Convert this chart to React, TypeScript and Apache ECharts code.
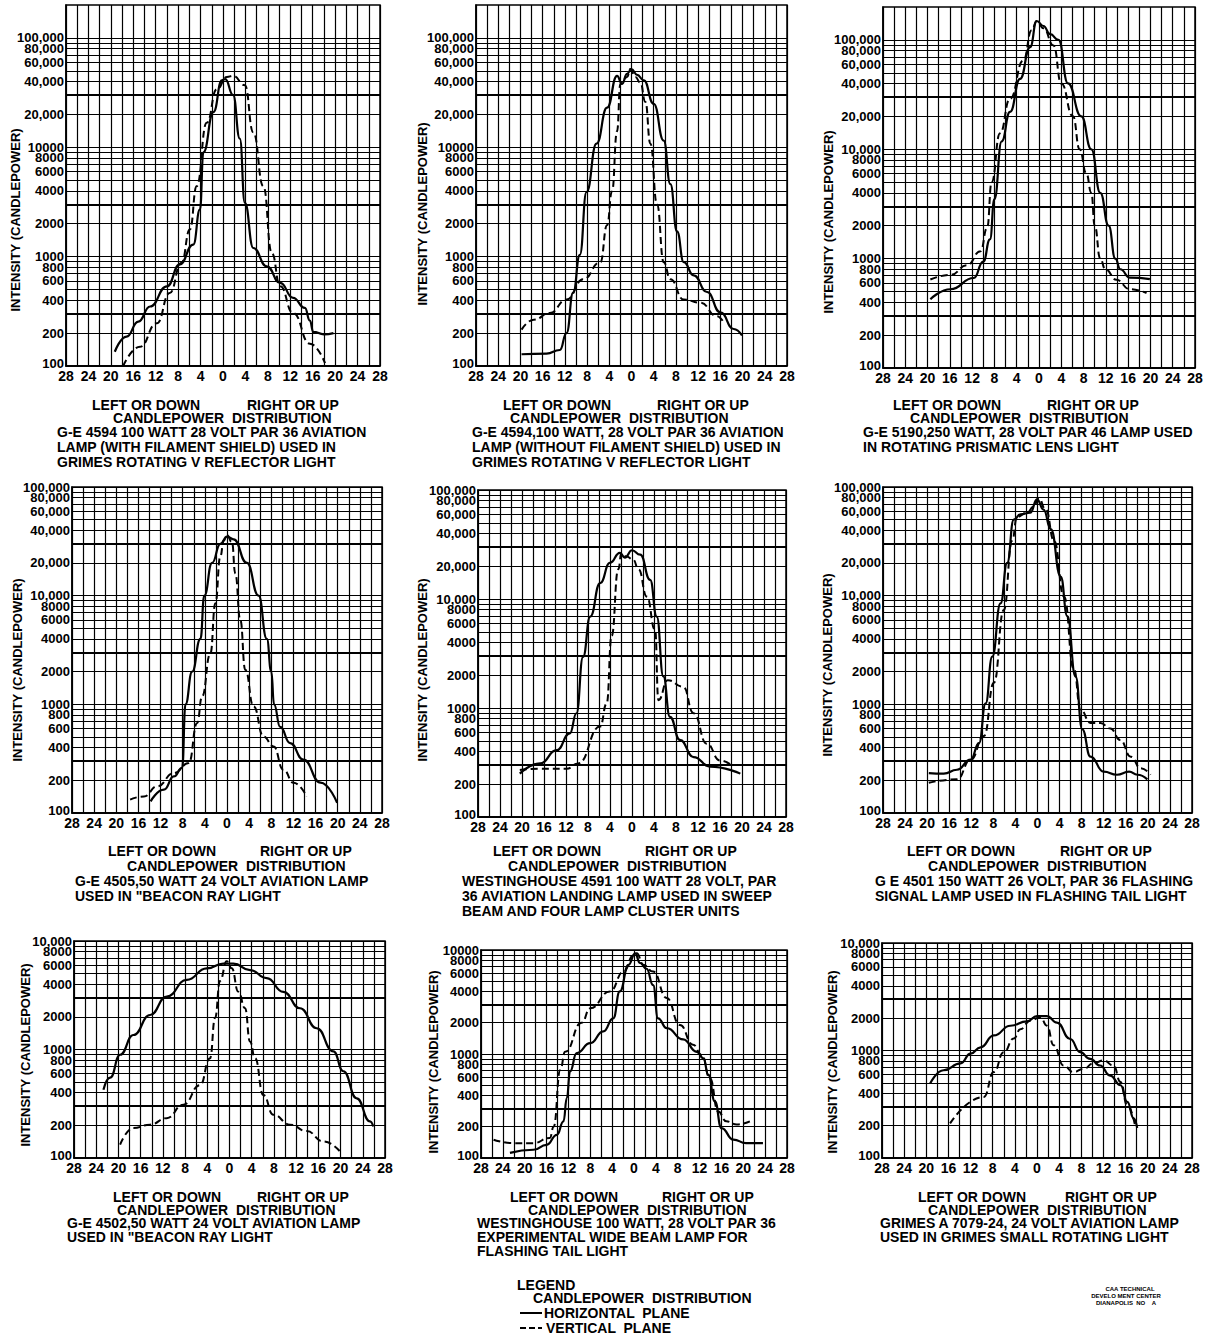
import React, { useEffect, useRef } from "react";
import * as echarts from "echarts";

const FONT = "'Liberation Sans', Arial, sans-serif";

// y-axis tick labels (candlepower)
const yLabelValues = [100, 200, 400, 600, 800, 1000, 2000, 4000, 6000, 8000, 10000, 20000, 40000, 60000, 80000, 100000];
// log-paper rulings inside each decade
const gridMultipliers = [1, 2, 3, 4, 5, 6, 7, 8, 9];

// [degrees, candlepower] – solid = horizontal plane, dashed = vertical plane
const p1Horizontal = [[-19.3,135],[-17.2,186],[-15.1,255],[-13,350],[-10,535],[-7.7,850],[-5.3,1290],[-4.1,2700],[-3.5,9000],[-1.7,21000],[-0.2,41000],[0.4,42000],[1.8,30000],[3,12000],[3.9,3100],[5.4,1200],[7.8,815],[10.2,575],[12.5,420],[14.6,340],[15.5,260],[16.1,205],[18,195],[19.7,200]];
const p1Vertical = [[-17.8,100],[-14.8,150],[-11.8,246],[-9.5,465],[-7.4,880],[-5.9,1770],[-4.7,4400],[-2.9,16800],[-1.1,34000],[0.7,44000],[1.8,45000],[3.9,37000],[5.4,13700],[7.2,4400],[8.7,1080],[10.2,535],[12.5,305],[15.5,160],[18.2,106]];

const p2Horizontal = [[-19.8,128],[-15.3,130],[-12.9,140],[-11.7,200],[-10.5,470],[-9.3,1040],[-8.1,3900],[-6.3,10800],[-4.4,23000],[-2.6,45000],[-1.7,38000],[-0.8,47000],[0,52000],[1,46000],[2.2,41000],[4,25000],[5.8,11500],[7,4600],[8.2,1700],[9.4,890],[11.2,675],[13.6,475],[16,310],[18.4,218],[19.9,190]];
const p2Vertical = [[-19.8,215],[-17.6,265],[-14.7,305],[-11.7,405],[-8.7,620],[-5.6,890],[-4.4,1940],[-3.5,3970],[-2.6,14000],[-2,38000],[-0.8,44000],[-0.2,52000],[0.7,44000],[1.6,39000],[2.5,26000],[3.4,10800],[4.6,3000],[5.8,890],[7,620],[9.4,405],[12.4,380],[15.4,285],[16.6,250]];

const p3Horizontal = [[-19.5,425],[-15.9,525],[-11.7,665],[-10,940],[-8.8,1500],[-8,3500],[-6.7,11800],[-5.2,22000],[-3.4,44000],[-1.6,86000],[-0.4,149000],[0.8,134000],[2,113000],[3.5,100000],[5.2,40000],[7.6,20000],[9.4,10000],[11,4000],[12.5,2000],[13.7,1000],[14.6,800],[16.3,670],[19.9,650]];
const p3Vertical = [[-19.5,645],[-15.9,710],[-12.9,870],[-10.5,1170],[-9.3,1920],[-8.5,5000],[-7,14000],[-5.2,29000],[-2.8,65000],[-1.3,123000],[-0.4,149000],[0.8,128000],[2.6,89000],[4,40000],[6.1,20000],[7.3,10000],[8.5,6000],[9.4,4000],[10,2000],[11,1000],[11.9,800],[13.9,640],[16.3,525],[19.3,485]];

const p4Horizontal = [[-13.8,128],[-11.4,164],[-9.6,217],[-8.1,260],[-7.5,1000],[-6.3,2000],[-4.8,4000],[-4.1,10000],[-2.7,20000],[-1.2,30000],[0,35000],[1.2,33000],[3.6,20000],[5.7,10000],[7.2,4000],[8,2000],[8.5,1000],[9.6,620],[11.4,440],[13.8,310],[16.9,190],[19.9,124]];
const p4Vertical = [[-17.5,133],[-15,142],[-12.6,176],[-9.6,233],[-6.9,288],[-5.4,670],[-4.5,1180],[-3,2940],[-2.1,8500],[-1.2,23000],[-0.6,32000],[0,36000],[0.9,31000],[1.5,16000],[2.4,6000],[3.3,2080],[4.8,955],[6.6,505],[8.4,410],[10.2,250],[12,190],[14.4,142]];

const p5Horizontal = [[-20.4,250],[-16.7,310],[-13.7,410],[-11.3,585],[-10.1,895],[-8.9,2950],[-7.6,6900],[-5.8,14000],[-4,21500],[-2.2,26500],[-1.3,24000],[0,28000],[1.5,25500],[3.3,15000],[4.5,6900],[5.7,1950],[6.9,830],[8.7,510],[11.2,355],[14.2,290],[19.7,250]];
const p5Vertical = [[-20.4,270],[-16.7,277],[-11.9,277],[-9.8,310],[-5.8,675],[-4.6,1100],[-3.7,4600],[-2.5,18700],[-1.9,26500],[-1,24500],[0.2,23000],[1.2,18700],[2.7,10500],[4.2,5200],[4.8,1180],[6.5,1800],[9.3,1570],[11.2,895],[13.6,470],[16,330],[18.4,290]];

const p6Horizontal = [[-19.7,233],[-17,230],[-14.6,250],[-12.1,310],[-10.6,440],[-9.4,1020],[-8.2,2750],[-6.7,8500],[-5.5,20000],[-4.3,50000],[-3.1,56000],[-1.3,58000],[-0.1,77000],[1.1,62000],[2.4,41000],[4.2,15000],[5.4,6500],[6.9,1800],[8.1,590],[9.6,330],[12,240],[14.4,225],[16.6,240],[18.1,225],[19.9,204]];
const p6Vertical = [[-19.7,190],[-14.6,204],[-12.1,310],[-9.7,510],[-7.9,1580],[-6.1,7400],[-4.6,32000],[-3.7,53000],[-1.9,58000],[-0.7,66000],[0.2,79000],[1.5,62000],[3,32000],[4.8,9800],[6.6,2100],[7.8,890],[9.6,675],[11.4,675],[13.2,600],[15,470],[16.9,330],[18.7,258],[20.5,225]];

const p7Horizontal = [[-22.7,426],[-21.5,550],[-19.7,895],[-17.3,1360],[-14.3,2080],[-11.3,3080],[-7.7,4380],[-4.1,5600],[-1.1,6200],[0.7,6200],[3.7,5400],[6.7,4550],[9.7,3400],[12.7,2400],[15.7,1570],[18.7,960],[20.5,630],[22.9,355],[25.3,218],[25.9,195]];
const p7Vertical = [[-19.7,133],[-17.3,189],[-14.3,203],[-11.3,233],[-8.3,310],[-5.3,470],[-3.5,830],[-2.6,1950],[-1.7,4300],[-0.5,6500],[0.4,5600],[1.6,3400],[2.8,2400],[3.7,1180],[4.6,830],[6.1,380],[7.9,250],[10.9,203],[13.9,177],[16.9,142],[19.9,115]];

const p8Horizontal = [[-22.7,112],[-18.4,120],[-16,134],[-14.1,167],[-12.9,225],[-12.3,376],[-11.7,680],[-10.5,1020],[-8,1270],[-5.6,1650],[-3.8,2200],[-2.6,4000],[-1,7200],[0.2,9300],[1.1,7500],[2.3,6600],[3.5,4600],[4.4,2200],[6,1770],[9,1380],[11.5,1050],[12.7,910],[13.6,630],[14.8,350],[16,194],[18.2,150],[20.5,139],[23.6,139]];
const p8Vertical = [[-25.7,150],[-22.1,139],[-18.4,139],[-15.4,156],[-14.7,200],[-13.5,700],[-12.6,1050],[-9.6,2000],[-8,2750],[-4.4,4000],[-1.9,6200],[-0.1,8900],[0.5,9300],[1.7,7200],[3.5,6200],[6,3450],[8.4,1900],[10.8,1230],[12.4,980],[13.9,585],[15.4,280],[16.9,225],[18.8,210],[21.2,225]];

const p9Horizontal = [[-19.3,492],[-16.9,655],[-13.8,760],[-12,935],[-10.2,1070],[-7.8,1380],[-4.8,1700],[-1.8,1870],[0,2090],[1.8,2090],[3.6,1820],[6,1280],[7.8,965],[9.6,835],[11.4,725],[13.2,585],[15.1,475],[16.3,333],[17.5,233],[18.1,190]];
const p9Vertical = [[-15.7,210],[-9.6,370],[-7.8,630],[-6,965],[-4.2,1290],[-3,1580],[-1.2,1900],[0.6,2040],[1.8,1700],[3,1120],[4.8,725],[6.6,630],[8.4,675],[10.2,760],[12,810],[13.8,725],[15.1,510],[16.3,310],[17.8,190]];

// captions
const p1Title = ["G-E 4594 100 WATT 28 VOLT PAR 36 AVIATION", "LAMP (WITH FILAMENT SHIELD) USED IN", "GRIMES ROTATING V REFLECTOR LIGHT"];
const p2Title = ["G-E 4594,100 WATT, 28 VOLT PAR 36 AVIATION", "LAMP (WITHOUT FILAMENT SHIELD) USED IN", "GRIMES ROTATING V REFLECTOR LIGHT"];
const p3Title = ["G-E 5190,250 WATT, 28 VOLT PAR 46 LAMP USED", "IN ROTATING PRISMATIC LENS LIGHT"];
const p4Title = ["G-E 4505,50 WATT 24 VOLT AVIATION LAMP", "USED IN \"BEACON RAY LIGHT"];
const p5Title = ["WESTINGHOUSE 4591 100 WATT 28 VOLT, PAR", "36 AVIATION LANDING LAMP USED IN SWEEP", "BEAM AND FOUR LAMP CLUSTER UNITS"];
const p6Title = ["G E 4501 150 WATT 26 VOLT, PAR 36 FLASHING", "SIGNAL LAMP USED IN FLASHING TAIL LIGHT"];
const p7Title = ["G-E 4502,50 WATT 24 VOLT AVIATION LAMP", "USED IN \"BEACON RAY LIGHT"];
const p8Title = ["WESTINGHOUSE 100 WATT, 28 VOLT PAR 36", "EXPERIMENTAL WIDE BEAM LAMP FOR", "FLASHING TAIL LIGHT"];
const p9Title = ["GRIMES A 7079-24, 24 VOLT AVIATION LAMP", "USED IN GRIMES SMALL ROTATING LIGHT"];

const row1Y = [405, 418, 432, 447, 462];
const row2Y = [851, 866, 881, 896, 911];
const row3Y = [1197, 1210, 1223, 1237, 1251];

const panels = [
  { rect: [66, 5, 314, 361], ymax: 200000, tenK: "10000", h: p1Horizontal, v: p1Vertical, title: p1Title, rowY: row1Y, lr: [92, 247], cd: 113, tl: 57, yt: [15, 220] },
  { rect: [476, 5, 311, 361], ymax: 200000, tenK: "10000", h: p2Horizontal, v: p2Vertical, title: p2Title, rowY: row1Y, lr: [503, 657], cd: 510, tl: 472, yt: [422, 214] },
  { rect: [883, 7, 312, 361], ymax: 200000, tenK: "10,000", h: p3Horizontal, v: p3Vertical, title: p3Title, rowY: row1Y, lr: [893, 1047], cd: 910, tl: 863, yt: [828, 222] },
  { rect: [72, 487, 310, 326], ymax: 100000, tenK: "10,000", h: p4Horizontal, v: p4Vertical, title: p4Title, rowY: row2Y, lr: [108, 260], cd: 127, tl: 75, yt: [17, 670] },
  { rect: [478, 490, 308, 327], ymax: 100000, tenK: "10,000", h: p5Horizontal, v: p5Vertical, title: p5Title, rowY: row2Y, lr: [493, 645], cd: 508, tl: 462, yt: [422, 670] },
  { rect: [883, 487, 309, 326], ymax: 100000, tenK: "10,000", h: p6Horizontal, v: p6Vertical, title: p6Title, rowY: row2Y, lr: [907, 1060], cd: 928, tl: 875, yt: [827, 665] },
  { rect: [74, 941, 311, 217], ymax: 10000, tenK: "10,000", h: p7Horizontal, v: p7Vertical, title: p7Title, rowY: row3Y, lr: [113, 257], cd: 117, tl: 67, yt: [25, 1055] },
  { rect: [481, 950, 306, 208], ymax: 10000, tenK: "10000", h: p8Horizontal, v: p8Vertical, title: p8Title, rowY: row3Y, lr: [510, 662], cd: 528, tl: 477, yt: [433, 1062] },
  { rect: [882, 943, 310, 215], ymax: 10000, tenK: "10,000", h: p9Horizontal, v: p9Vertical, title: p9Title, rowY: row3Y, lr: [918, 1065], cd: 928, tl: 880, yt: [832, 1062] },
];

function gridLineValues(max: number) {
  const out: number[] = [];
  for (let d = 100; d <= max; d *= 10) {
    for (const m of gridMultipliers) {
      const v = m * d;
      if (v > 100 && v <= max) out.push(v);
    }
  }
  return out;
}

function labelFor(v: number, tenK: string) {
  if (!yLabelValues.includes(v)) return null;
  if (v === 10000) return tenK;
  if (v > 10000) return v.toLocaleString("en-US");
  return String(v);
}

function txt(text: string, x: number, y: number, size = 14, extra: any = {}) {
  return {
    type: "text",
    x,
    y,
    silent: true,
    ...extra,
    style: {
      text,
      fill: "#000",
      fontSize: size,
      fontWeight: "bold",
      fontFamily: FONT,
      align: "left",
      verticalAlign: "middle",
      ...(extra.style || {}),
    },
  };
}

export default function App() {
  const ref = useRef<HTMLDivElement>(null);
  useEffect(() => {
    if (!ref.current) return;
    const chart = echarts.init(ref.current, null, { renderer: "svg" });
    const line = { color: "#000", width: 1.5 };

    const grid = panels.map((p) => ({
      left: p.rect[0], top: p.rect[1], width: p.rect[2], height: p.rect[3],
      show: true, borderColor: "#000", borderWidth: 1.5, backgroundColor: "transparent",
    }));
    const xAxis = panels.map((_, i) => ({
      type: "value", gridIndex: i, min: -28, max: 28, interval: 4,
      axisLine: { show: true, onZero: false, lineStyle: line },
      axisTick: { show: false },
      axisLabel: {
        color: "#000", fontSize: 14, fontWeight: "bold", fontFamily: FONT, margin: 3,
        formatter: (v: number) => String(Math.abs(v)),
        interval: 0, hideOverlap: false,
        showMinLabel: true, showMaxLabel: true,
      },
      splitLine: { show: true, lineStyle: { color: "#000", width: 1.2 } },
      minorTick: { show: false, splitNumber: 2 },
      minorSplitLine: { show: true, lineStyle: { color: "#000", width: 1.2 } },
    }));
    const yAxis = panels.map((p, i) => ({
      type: "log", logBase: 10, gridIndex: i, min: 100, max: p.ymax,
      axisLine: { show: true, onZero: false, lineStyle: line },
      axisTick: { show: false },
      axisLabel: { show: false },
      splitLine: { show: false },
    }));

    const labelStyle = { show: true, position: "start", distance: 2, color: "#000", fontSize: 13, fontWeight: "bold", fontFamily: FONT };
    const series: any[] = [];
    panels.forEach((p, i) => {
      const lines = gridLineValues(p.ymax).filter((v) => v < p.ymax || yLabelValues.includes(v));
      const mlData: any[] = lines.map((v) => {
        const lbl = labelFor(v, p.tenK);
        const lead = String(v)[0];
        return {
          yAxis: v,
          lineStyle: { color: "#000", width: lead === "3" ? 2.2 : 1.2, type: "solid" },
          label: lbl ? { ...labelStyle, formatter: lbl } : { show: false },
        };
      });
      mlData.push({
        yAxis: 100,
        lineStyle: { color: "#000", width: 1.5, type: "solid" },
        label: { ...labelStyle, formatter: "100", offset: [0, -3] },
      });
      series.push({
        type: "line", name: "HORIZONTAL PLANE", xAxisIndex: i, yAxisIndex: i, data: p.h,
        symbol: "none", showSymbol: false, smooth: 0.5, smoothMonotone: "x", silent: true,
        lineStyle: { color: "#000", width: 2.2 }, z: 5,
        markLine: { silent: true, symbol: ["none", "none"], animation: false, label: { show: false }, data: mlData },
      });
      series.push({
        type: "line", name: "VERTICAL PLANE", xAxisIndex: i, yAxisIndex: i, data: p.v,
        symbol: "none", showSymbol: false, smooth: 0.5, smoothMonotone: "x", silent: true,
        lineStyle: { color: "#000", width: 2, type: [7, 4] }, z: 5,
      });
    });

    const graphics: any[] = [];
    panels.forEach((p) => {
      graphics.push(txt("INTENSITY (CANDLEPOWER)", p.yt[0], p.yt[1], 13, { rotation: Math.PI / 2, style: { align: "center" } }));
      graphics.push(txt("LEFT OR DOWN", p.lr[0], p.rowY[0]));
      graphics.push(txt("RIGHT OR UP", p.lr[1], p.rowY[0]));
      graphics.push(txt("CANDLEPOWER  DISTRIBUTION", p.cd, p.rowY[1]));
      p.title.forEach((t, k) => graphics.push(txt(t, p.tl, p.rowY[2 + k])));
    });
    // legend
    graphics.push(txt("LEGEND", 517, 1285));
    graphics.push(txt("CANDLEPOWER  DISTRIBUTION", 533, 1298));
    graphics.push({ type: "line", silent: true, shape: { x1: 520, y1: 1313, x2: 542, y2: 1313 }, style: { stroke: "#000", lineWidth: 2 } });
    graphics.push(txt("HORIZONTAL  PLANE", 544, 1313));
    graphics.push({ type: "line", silent: true, shape: { x1: 520, y1: 1328, x2: 542, y2: 1328 }, style: { stroke: "#000", lineWidth: 2, lineDash: [6, 3] } });
    graphics.push(txt("VERTICAL  PLANE", 546, 1328));
    // stamp
    graphics.push(txt("CAA TECHNICAL", 1130, 1289, 6, { style: { align: "center" } }));
    graphics.push(txt("DEVELO MENT CENTER", 1126, 1296, 6, { style: { align: "center" } }));
    graphics.push(txt("DIANAPOLIS  NO    A", 1126, 1303, 6, { style: { align: "center" } }));

    chart.setOption({
      animation: false,
      backgroundColor: "#fff",
      grid, xAxis, yAxis, series,
      graphic: { elements: graphics },
    });
    return () => chart.dispose();
  }, []);
  return <div ref={ref} style={{ position: "absolute", left: 0, top: 0, width: 1210, height: 1336 }} />;
}
